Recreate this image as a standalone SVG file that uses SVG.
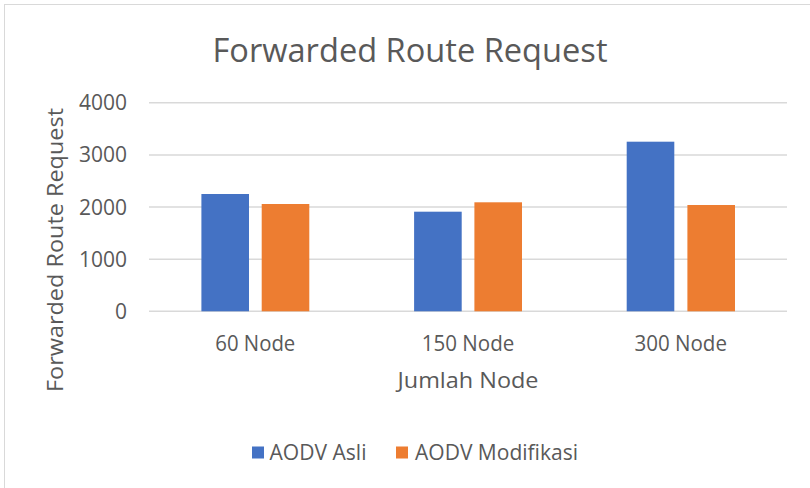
<svg xmlns="http://www.w3.org/2000/svg" width="810" height="488" viewBox="0 0 810 488">
<style>
text{font-family:"Open Sans","Liberation Sans",sans-serif;fill:#595959}
.tick{font-size:21px;text-anchor:end}
.cat{font-size:21px;text-anchor:middle}
.grid{stroke:#d9d9d9;stroke-width:1.5;fill:none}
.s1{fill:#4472C4}
.s2{fill:#ED7D31}
</style>
<rect x="0" y="0" width="810" height="488" fill="#fff"/>
<rect x="4.5" y="4.5" width="820" height="500" fill="#fff" stroke="#d9d9d9" stroke-width="1"/>
<g id="title"><text x="410" y="62" font-size="33" text-anchor="middle" textLength="395" lengthAdjust="spacingAndGlyphs">Forwarded Route Request</text></g>
<g id="gridlines">
<line class="grid" x1="149" y1="102.7" x2="787" y2="102.7"/>
<line class="grid" x1="149" y1="154.9" x2="787" y2="154.9"/>
<line class="grid" x1="149" y1="207.1" x2="787" y2="207.1"/>
<line class="grid" x1="149" y1="259.2" x2="787" y2="259.2"/>
<line class="grid" x1="149" y1="311.3" x2="787" y2="311.3"/>
</g>
<g id="y-ticks">
<text class="tick" x="127" y="110.2">4000</text>
<text class="tick" x="127" y="162.4">3000</text>
<text class="tick" x="127" y="214.6">2000</text>
<text class="tick" x="127" y="266.7">1000</text>
<text class="tick" x="127" y="318.8">0</text>
</g>
<g id="series-asli">
<rect class="s1" x="201.4" y="194" width="47.6" height="117.3"/>
<rect class="s1" x="414.1" y="211.7" width="47.6" height="99.6"/>
<rect class="s1" x="626.7" y="141.7" width="47.6" height="169.6"/>
</g>
<g id="series-modifikasi">
<rect class="s2" x="261.7" y="204" width="47.6" height="107.3"/>
<rect class="s2" x="474.4" y="202.3" width="47.6" height="109"/>
<rect class="s2" x="687.4" y="205" width="47.6" height="106.3"/>
</g>
<g id="x-labels">
<text class="cat" x="255.3" y="351" textLength="80" lengthAdjust="spacingAndGlyphs">60 Node</text>
<text class="cat" x="468" y="351" textLength="92.5" lengthAdjust="spacingAndGlyphs">150 Node</text>
<text class="cat" x="680.7" y="351" textLength="92.5" lengthAdjust="spacingAndGlyphs">300 Node</text>
</g>
<g id="x-title"><text class="cat" x="468" y="388" textLength="141" lengthAdjust="spacingAndGlyphs">Jumlah Node</text></g>
<g id="y-title"><text class="cat" transform="translate(63,250) rotate(-90)" x="0" y="0" textLength="284" lengthAdjust="spacingAndGlyphs">Forwarded Route Request</text></g>
<g id="legend">
<rect class="s1" x="252" y="446.5" width="12" height="12"/>
<text x="269.5" y="460" font-size="21" textLength="97" lengthAdjust="spacingAndGlyphs">AODV Asli</text>
<rect class="s2" x="396" y="446.5" width="12" height="12"/>
<text x="415" y="460" font-size="21" textLength="163" lengthAdjust="spacingAndGlyphs">AODV Modifikasi</text>
</g>
</svg>
